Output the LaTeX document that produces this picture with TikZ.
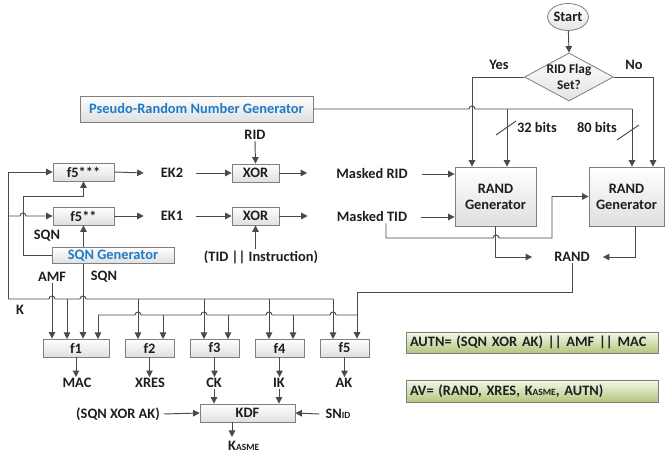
\documentclass[tikz,border=0pt]{standalone}
\usepackage{fontspec}
\setmainfont{Carlito}
\usetikzlibrary{arrows.meta,shapes.geometric,calc}
\definecolor{ln}{HTML}{4A4A4A}
\definecolor{tx}{HTML}{1E1E1E}
\definecolor{bd}{HTML}{7F7F7F}
\definecolor{bl}{HTML}{1F7BC8}
\definecolor{gtop}{HTML}{F5F8EA}
\definecolor{gbot}{HTML}{B3C77F}
\begin{document}
\begin{tikzpicture}[x=1pt,y=-1pt,
  every node/.style={font=\fontsize{14.4}{16}\selectfont\bfseries, text=tx, inner sep=1pt},
  fbox/.style={draw=bd, line width=0.8pt, top color=white, bottom color=gray!25, minimum height=18pt, inner sep=0pt},
  gbox/.style={draw=bd, line width=0.8pt, top color=gtop, bottom color=gbot, minimum height=21pt, minimum width=252pt, text width=244pt, align=left, inner sep=4pt},
  ln/.style={draw=ln, line width=0.95pt},
  arr/.style={ln, -{Triangle[length=6.5pt,width=6.5pt]}}]
\useasboundingbox (0,0) rectangle (665,457);

% flowchart top
\node[ellipse, draw=bd, line width=0.8pt, top color=white, bottom color=gray!20, minimum width=31pt, minimum height=27pt, inner sep=0pt] (start) at (568,17) {Start};
\node[diamond, draw=bd, line width=0.8pt, top color=white, bottom color=gray!22, minimum width=89pt, minimum height=48pt, inner sep=0pt] (dec) at (569,77) {};
\node[align=center, font=\fontsize{13.3}{15.5}\selectfont\bfseries] (dect) at (569,77) {RID Flag\\Set?};
\node (yes) at (499,65) {Yes};
\node (no) at (634,65) {No};

% RAND generators
\node[fbox, minimum width=81pt, minimum height=59pt, align=center] (g1) at (495.5,196.5) {RAND\\Generator};
\node[fbox, minimum width=75pt, minimum height=59pt, align=center] (g2) at (626.5,196.5) {RAND\\Generator};

% PRNG
\node[fbox, minimum width=233pt, minimum height=26pt, text=bl] (prng) at (196.5,109) {Pseudo-Random Number Generator};

\node (b32) at (537,128) {32 bits};
\node (b80) at (597,128) {80 bits};

\draw[arr] (start) -- (dec.north);
\draw[arr] (dec.west) -| ([xshift=-23.5pt]g1.north);
\draw[arr] (dec.east) -| ([xshift=26.5pt]g2.north);
\coordinate (pb1) at (507,109);
\coordinate (pb2) at (632,109);
\draw[ln] (prng.east) -- (469,109) arc(180:360:3) -- (pb2);
\draw[arr] (pb1) -- (pb1 |- g1.north);
\draw[arr] (pb2) -- (pb2 |- g2.north);
\draw[ln] (496,135) -- (516,121);
\draw[ln] (617,140) -- (639,125);

% masked inputs
\node (mrid) at (372,174) {Masked RID};
\node (mtid) at (372,217) {Masked TID};
\draw[arr] ([xshift=13pt]mrid.east) -- (g1.west |- mrid);
\draw[arr] ([xshift=13pt]mtid.east) -- (g1.west |- mtid);
\draw[arr] ([xshift=14pt]mtid.south) |- (493,238) arc(180:360:3) -- (552,238) |- (g2.west);

% RAND
\node (rand) at (572,257) {RAND};
\draw[arr] (g1.south) |- ([xshift=-21pt]rand.west);
\draw[arr] ([xshift=8.5pt]g2.south) |- ([xshift=12pt]rand.east);

% f5 boxes and XORs
\node[fbox, minimum width=61pt] (fa) at (83.5,172) {f5***};
\node[fbox, minimum width=61pt] (fb) at (83.5,216) {f5**};
\node (ek2) at (172,173) {EK2};
\node (ek1) at (172,216) {EK1};
\node[fbox, minimum width=47pt] (x2) at (255.5,173) {XOR};
\node[fbox, minimum width=47pt] (x1) at (255.5,216) {XOR};
\node (rid) at (255,135) {RID};
\node (tidi) at (261,257) {(TID || Instruction)};
\draw[arr] (fa.east) -- ([xshift=-16pt]ek2.west);
\draw[arr] (fb.east) -- ([xshift=-16pt]ek1.west);
\draw[arr] ([xshift=12pt]ek2.east) -- (x2.west);
\draw[arr] ([xshift=12pt]ek1.east) -- (x1.west);
\draw[arr] (rid.south) -- (x2.north);
\draw[arr] (tidi.north -| x1.south) -- (x1.south);
\draw[arr] (x2.east) -- ([xshift=-28pt]mrid.west |- x2.east);
\draw[arr] (x1.east) -- ([xshift=-28pt]mtid.west |- x1.east);

% SQN generator
\node[fbox, minimum width=122pt, minimum height=16pt, text=bl] (sg) at (113,255.5) {SQN Generator};
\node (sqn1) at (47,236) {SQN};
\node (amf) at (52,277) {AMF};
\node (sqn2) at (104,277) {SQN};
\node (k) at (20,310) {K};
\draw[arr] (sg.north -| fb.south) -- (fb.south);
\draw[arr] (sg.west) -| (23,196) -| (fa.south);

% f-boxes
\node[fbox, minimum width=66pt] (f1) at (76,348) {f1};
\node[fbox, minimum width=49pt] (f2) at (149.5,348) {f2};
\node[fbox, minimum width=49pt] (f3) at (214.5,348) {f3};
\node[fbox, minimum width=49pt] (f4) at (279.5,348) {f4};
\node[fbox, minimum width=49pt] (f5) at (344.5,348) {f5};

% K distribution
\coordinate (kc) at (8,299);
\draw[arr] (kc) |- (fa.west);
\draw[arr] (8,216) -- (20,216) arc(180:360:3) -- (fb.west);
\draw[ln] (kc) -- (49,299) arc(180:360:3) -- (80,299) arc(180:360:3) -- (333,299);
\foreach \x in {67,138,204,269,333} \draw[arr] (\x,299) -- (\x,339);
\draw[arr] (amf.south) -- (amf.south |- f1.north);
\draw[arr] ([xshift=7pt]f1.north |- sg.south) -- ([xshift=7pt]f1.north);

% RAND distribution
\coordinate (rb) at (357,292);
\draw[arr] (rand.south) |- (rb) -- (rb |- f5.north);
\draw[ln] (98,315) -- (135,315) arc(180:360:3) -- (201,315) arc(180:360:3) -- (266,315) arc(180:360:3) -- (330,315) arc(180:360:3) -- (357,315);
\foreach \x in {98,163,228,293} \draw[arr] (\x,315) -- (\x,339);

% outputs
\node (mac) at (77,383) {MAC};
\node (xres) at (150,383) {XRES};
\node (ck) at (214,383) {CK};
\node (ik) at (279,383) {IK};
\node (ak) at (344,383) {AK};
\draw[arr] (f1.south) -- (f1.south |- mac.north);
\draw[arr] (f2.south) -- (f2.south |- xres.north);
\draw[arr] (f3.south) -- (f3.south |- ck.north);
\draw[arr] (f4.south) -- (f4.south |- ik.north);
\draw[arr] (f5.south) -- (f5.south |- ak.north);

% KDF
\node[fbox, minimum width=95pt] (kdf) at (247.5,413) {KDF};
\node (sxa) at (118,414) {(SQN XOR AK)};
\node (snid) at (338,414) {SN{\fontsize{9.5}{10}\selectfont ID}};
\node[anchor=west] (kasme) at (227,446) {K{\fontsize{9.5}{10}\selectfont ASME}};
\draw[arr] (ck.south) -- (ck.south |- kdf.north);
\draw[arr] (ik.south) -- (ik.south |- kdf.north);
\draw[arr] ([xshift=3pt]sxa.east) -- (kdf.west);
\draw[arr] ([xshift=-5pt]snid.west) -- (kdf.east);
\draw[arr] (232,422) -- (232,437);

% green boxes
\node[gbox] (autn) at (532,342.5) {AUTN= (SQN XOR AK) || AMF || MAC};
\node[gbox, minimum height=22pt] (av) at (532,391) {AV= (RAND, XRES, K{\fontsize{9.5}{10}\selectfont ASME}, AUTN)};
\end{tikzpicture}
\end{document}
